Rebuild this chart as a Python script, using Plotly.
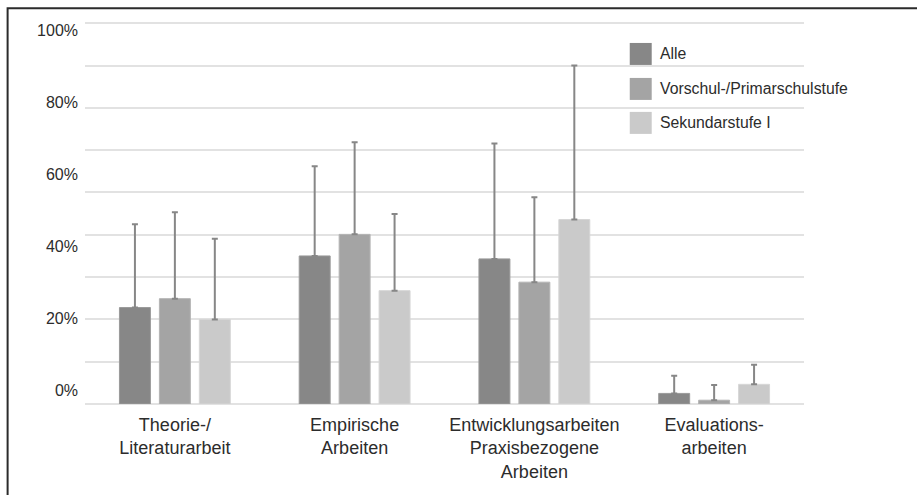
import plotly.graph_objects as go

# Categories and series
categories = [
    "Theorie-/<br>Literaturarbeit",
    "Empirische<br>Arbeiten",
    "Entwicklungsarbeiten<br>Praxisbezogene<br>Arbeiten",
    "Evaluations-<br>arbeiten",
]
series_names = ["Alle", "Vorschul-/Primarschulstufe", "Sekundarstufe I"]

alle = [22.8, 35.0, 34.3, 2.5]
vorschul = [24.9, 40.1, 28.8, 0.9]
sekundar = [20.0, 26.8, 43.6, 4.65]

# Upper standard deviations
alle_sd = [19.7, 21.2, 27.3, 4.2]
vorschul_sd = [20.4, 21.8, 20.1, 3.6]
sekundar_sd = [19.05, 18.1, 36.4, 4.6]

# Percent labels shown on the left axis
label_vals = [0, 20, 40, 60, 80, 100]
label_text = ["0%", "20%", "40%", "60%", "80%", "100%"]

colors = ["#878787", "#a4a4a4", "#cacaca"]
edge_colors = ["#9a9a9a", "#b4b4b4", "#d6d6d6"]
FONT = "Liberation Sans, Arial, sans-serif"
TEXT = "#2c2c2c"

# Plot area geometry (pixels)
LEFT, RIGHT_MARGIN = 84.5, 112.5
BOTTOM_PX = 404.0
Y_TOP = 90.3
PX_PER_UNIT = 381.0 / 90.0
TOP_PX = BOTTOM_PX - Y_TOP * PX_PER_UNIT

fig = go.Figure()
for name, vals, sd, col, edge in zip(
    series_names, [alle, vorschul, sekundar], [alle_sd, vorschul_sd, sekundar_sd], colors, edge_colors
):
    fig.add_trace(
        go.Bar(
            x=categories,
            y=vals,
            name=name,
            marker=dict(color=col, line=dict(color=edge, width=1)),
            error_y=dict(
                type="data",
                symmetric=False,
                array=sd,
                arrayminus=[0] * len(sd),
                color="#878787",
                thickness=2,
                width=3,
            ),
            showlegend=False,
        )
    )

# Invisible trace carrying the percent label axis
fig.add_trace(
    go.Scatter(x=categories, y=[None] * len(categories), yaxis="y2", showlegend=False, hoverinfo="skip")
)

# Label axis: 0% centred at 390.5 px, 100% at 30 px
lab_px_per_pct = (390.5 - 30.0) / 100.0
y2_lo = -(BOTTOM_PX - 390.5) / lab_px_per_pct
y2_hi = 100 + (30.0 - TOP_PX) / lab_px_per_pct

fig.update_layout(
    width=917,
    height=495,
    autosize=False,
    margin=dict(l=LEFT, r=RIGHT_MARGIN, t=TOP_PX, b=495 - BOTTOM_PX),
    paper_bgcolor="white",
    plot_bgcolor="white",
    barmode="group",
    bargap=0.3333,
    bargroupgap=0.225,
    showlegend=False,
    xaxis=dict(
        showgrid=False,
        showline=False,
        zeroline=False,
        ticks="",
        tickfont=dict(family=FONT, size=18, color=TEXT),
        ticklabelstandoff=8,
    ),
    yaxis=dict(
        range=[0, Y_TOP],
        dtick=10,
        showgrid=True,
        gridcolor="#e2e2e2",
        gridwidth=2,
        zeroline=True,
        zerolinecolor="#e2e2e2",
        zerolinewidth=2,
        showticklabels=False,
        ticks="",
        fixedrange=True,
    ),
    yaxis2=dict(
        overlaying="y",
        side="left",
        range=[y2_lo, y2_hi],
        tickvals=label_vals,
        ticktext=label_text,
        showgrid=False,
        zeroline=False,
        showline=False,
        ticks="",
        tickfont=dict(family=FONT, size=16, color=TEXT),
        ticklabelstandoff=6,
    ),
)

# Legend drawn as swatches with labels
px_w = 917 - LEFT - RIGHT_MARGIN
px_h = BOTTOM_PX - TOP_PX
def px_x(p):
    return (p - LEFT) / px_w
def px_y(p):
    return (BOTTOM_PX - p) / px_h

legend_tops = [42.7, 77.7, 111.7]
for name, col, top in zip(series_names, colors, legend_tops):
    fig.add_shape(
        type="rect", xref="paper", yref="paper",
        x0=px_x(630), x1=px_x(652), y0=px_y(top + 22), y1=px_y(top),
        fillcolor=col, line=dict(width=0),
    )
    fig.add_annotation(
        xref="paper", yref="paper", x=px_x(658), y=px_y(top + 11),
        text=name, showarrow=False, xanchor="left", yanchor="middle",
        font=dict(family=FONT, size=15.8, color=TEXT),
    )

# Frame line along the top and left edge
fig.add_shape(
    type="rect", xref="paper", yref="paper",
    x0=px_x(7), x1=px_x(930), y0=px_y(510), y1=px_y(8),
    line=dict(color="#2b2b2b", width=2), fillcolor="rgba(0,0,0,0)", layer="above",
)

fig.write_html("out.html")
